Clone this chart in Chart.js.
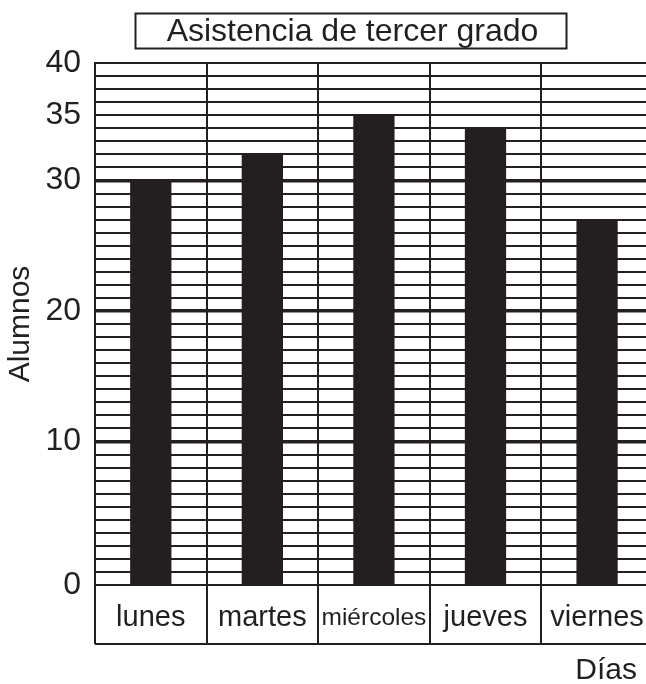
<!DOCTYPE html>
<html>
<head>
<meta charset="utf-8">
<script src="https://cdn.jsdelivr.net/npm/chart.js@4"></script>
<style>
html,body{margin:0;padding:0;background:#fff;overflow:hidden;width:646px;height:684px}
#wrap{width:660px;height:684px}
</style>
</head>
<body>
<div id="wrap"><canvas id="c" width="660" height="684"></canvas></div>
<script>
// ---- data ----
const chartTitle = 'Asistencia de tercer grado';
const xAxisTitle = 'Días';
const yAxisTitle = 'Alumnos';
const days = ['lunes', 'martes', 'miércoles', 'jueves', 'viernes'];
const students = [30, 32, 35, 34, 27];
// tick positions as drawn on the reference's ruled grid, and their printed labels
const yTickValues = [-1, 10, 20, 30, 35, 39];
const yTickLabels = ['0', '10', '20', '30', '35', '40'];
const yMajorLines = [10, 20, 30];
const yMin = -1;
const yMax = 39;

// ---- style ----
const ink = '#231f20';
const fam = "'Liberation Sans', Arial, Helvetica, sans-serif";
const labelBoxHeight = 59;

const decor = {
  id: 'decor',
  afterDraw(chart) {
    const {ctx, chartArea} = chart;
    const x = chart.scales.x;
    const yTop = chartArea.bottom;
    const yb = yTop + labelBoxHeight;
    const n = x.ticks.length;
    const half = x.width / n / 2;
    ctx.save();
    ctx.strokeStyle = ink;
    ctx.fillStyle = ink;
    ctx.lineWidth = 2;
    ctx.beginPath();
    // label box separators at category boundaries
    for (let i = 0; i <= n; i++) {
      const bx = Math.round(x.getPixelForTick(Math.min(i, n - 1)) + (i < n ? -half : half));
      ctx.moveTo(bx, yTop);
      ctx.lineTo(bx, yb);
    }
    // bottom of the label boxes
    ctx.moveTo(x.left, yb);
    ctx.lineTo(x.right, yb);
    ctx.stroke();
    // boxed title
    ctx.font = '32px ' + fam;
    ctx.textAlign = 'center';
    ctx.textBaseline = 'alphabetic';
    ctx.fillText(chartTitle, 352.5, 41);
    ctx.lineWidth = 2;
    ctx.strokeRect(135.5, 13.5, 431, 35);
    // x axis title
    ctx.font = '30px ' + fam;
    ctx.textAlign = 'right';
    ctx.fillText(xAxisTitle, 637, 679);
    ctx.restore();
  }
};

new Chart(document.getElementById('c'), {
  type: 'bar',
  data: {
    labels: days,
    datasets: [{
      data: students,
      base: yMin,
      backgroundColor: ink,
      borderWidth: 0,
      barPercentage: 0.37,
      categoryPercentage: 1
    }]
  },
  options: {
    responsive: false,
    animation: false,
    layout: { padding: { top: 63, right: 6, bottom: 33, left: 0 } },
    plugins: { legend: { display: false }, tooltip: { enabled: false }, title: { display: false } },
    scales: {
      x: {
        type: 'category',
        offset: true,
        grid: { offset: true, color: ink, lineWidth: 2, drawTicks: false },
        border: { display: true, color: ink, width: 2 },
        ticks: {
          padding: 15.6,
          maxRotation: 0,
          minRotation: 0,
          autoSkip: false,
          color: ink,
          font: (c) => (c.index === 2
            ? { family: fam, size: 24.5, lineHeight: 1.42 }
            : { family: fam, size: 29, lineHeight: 1.2 })
        }
      },
      y: {
        type: 'linear',
        min: yMin,
        max: yMax,
        afterBuildTicks: (s) => {
          const t = [];
          for (let v = yMin; v <= yMax; v++) t.push({ value: v });
          s.ticks = t;
        },
        grid: {
          color: ink,
          drawTicks: false,
          lineWidth: (c) => (c.tick && yMajorLines.includes(c.tick.value) ? 3.5 : 2)
        },
        border: { display: true, color: ink, width: 2 },
        ticks: {
          autoSkip: false,
          padding: 14,
          color: ink,
          font: { family: fam, size: 32 },
          callback: (v) => {
            const i = yTickValues.indexOf(v);
            return i >= 0 ? yTickLabels[i] : '';
          }
        },
        title: {
          display: true,
          text: yAxisTitle,
          color: ink,
          font: { family: fam, size: 30, lineHeight: 0.7 },
          padding: { top: 10.4, bottom: 0 }
        }
      }
    }
  },
  plugins: [decor]
});
</script>
</body>
</html>
